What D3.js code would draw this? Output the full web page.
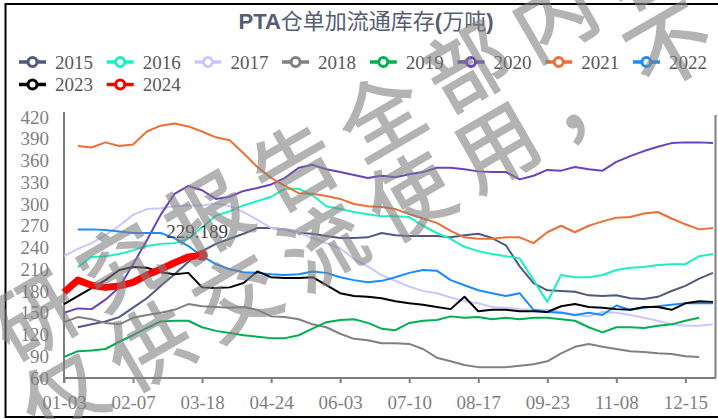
<!DOCTYPE html>
<html>
<head>
<meta charset="utf-8">
<script src="https://cdn.jsdelivr.net/npm/d3@7"></script>
<style>
body {margin:0; background:#fff;}
svg {display:block;}
</style>
</head>
<body>
<div class="graph"></div>
<script>
/*--------------- DATA -------------*/

// weekly categories (x axis), only every 5th one is labelled
const categories = ["01-03","01-10","01-17","01-24","01-31","02-07","02-14","02-21","02-28","03-08",
    "03-18","03-25","04-01","04-10","04-17","04-24","05-06","05-13","05-20","05-27",
    "06-03","06-10","06-17","06-24","07-01","07-10","07-17","07-24","07-31","08-07",
    "08-17","08-24","08-31","09-07","09-14","09-23","10-11","10-18","10-25","11-01",
    "11-08","11-15","11-22","11-29","12-06","12-15","12-22","12-29"];
const tickLabels = ["01-03","02-07","03-18","04-24","06-03","07-10","08-17","09-23","11-08","12-15"];
const yTicks = [60,90,120,150,180,210,240,270,300,330,360,390,420];

const years = ["2015","2016","2017","2018","2019","2020","2021","2022","2023","2024"];
const colors = ["#4e5a82","#1cefc2","#c8c8ff","#808080","#00b050","#6a42c0","#ec6f35","#1a8cff","#000000","#ff0000"];

const s2015 = [null,130,134,138,144,157,170,187,203,220,235,245,252,259,267,267,265,260,259,256,253,253,254,260,257,256,256,256,254,257,259,253,243,214,191,181,180,179,174,173,174,170,169,172,180,187,197,205];
const s2016 = [null,213,227,228,231,236,242,245,246,252,268,284,290,298,304,310,321,321,312,297,293,289,286,283,283,282,270,260,252,241,235,231,228,225,195,165,202,199,199,202,209,212,213,216,217,217,228,231];
const s2017 = [228,238,246,257,270,285,293,294,297,298,298,301,297,289,278,267,265,260,253,246,239,224,214,202,194,186,180,177,171,166,163,158,157,155,154,154,151,147,145,151,150,147,143,139,134,132,132,134];
const s2018 = [137,144,141,136,134,143,147,150,154,162,159,158,157,158,154,145,144,141,134,130,121,114,112,108,108,107,100,88,83,78,75,75,75,77,79,83,94,103,107,103,100,97,96,94,93,90,89,null];
const s2019 = [89,97,98,100,110,119,129,138,139,139,130,125,122,119,117,115,115,119,128,137,140,141,136,128,126,136,139,140,145,143,144,141,143,141,143,143,141,139,130,123,130,130,129,132,134,139,143,null];
const s2020 = [150,156,155,168,185,217,250,285,314,325,319,307,310,318,322,327,336,350,354,348,344,340,336,339,337,341,344,350,350,348,345,344,344,334,339,347,346,351,348,346,358,366,373,379,384,385,385,384];
const s2021 = [null,380,378,385,380,382,400,408,411,407,400,392,388,370,351,336,325,315,314,311,307,300,297,296,293,286,280,274,263,254,252,252,254,254,246,261,270,261,270,276,281,282,287,289,280,272,265,267];
const s2022 = [null,265,265,264,262,260,260,260,253,242,228,217,210,206,205,203,202,203,207,205,199,195,192,194,199,205,209,208,195,188,181,177,173,177,154,151,150,147,150,147,160,154,157,159,161,163,163,163];
const s2023 = [162,173,184,195,209,213,212,206,203,205,185,184,185,191,207,199,198,198,199,188,177,173,172,170,166,163,161,158,155,172,152,154,154,152,152,151,159,162,158,157,155,154,158,158,154,163,166,165];
const s2024 = [178,195,188,185,187,192,202,210,219,227,229.189];

const series = [s2015,s2016,s2017,s2018,s2019,s2020,s2021,s2022,s2023,s2024];

const watermark = ["研究报告全部内容", "仅供交流使用，不"];

/*--------------- D3 STUFF -------------*/

const SIZE = {X:718, Y:419};
const PLOT = {LEFT:64, RIGHT:713, TOP:117, BOTTOM:378, AXIS_END:716};
const SERIF = "'Liberation Serif','DejaVu Serif',serif";

const svg = d3.select(".graph").append("svg")
    .attr("width", SIZE.X)
    .attr("height", SIZE.Y);

//outer frame
svg.append("rect")
    .attr("x", 5.5).attr("y", 4)
    .attr("width", 760).attr("height", 413)
    .attr("fill", "#fff")
    .attr("stroke", "#000")
    .attr("stroke-width", 2);

//title
const title = svg.append("text")
    .attr("x", 366).attr("y", 29)
    .attr("text-anchor", "middle")
    .attr("fill", "#545c76")
    .style("font-family", "'Liberation Sans','Noto Sans CJK SC',sans-serif")
    .style("font-size", "22px");
title.append("tspan").attr("font-weight", "bold").text("PTA");
title.append("tspan").style("font-family", "'Noto Sans CJK SC'").text("仓单加流通库存");
title.append("tspan").attr("font-weight", "bold").text("(");
title.append("tspan").style("font-family", "'Noto Sans CJK SC'").text("万吨");
title.append("tspan").attr("font-weight", "bold").text(")");

//legend, 8 per row
const legend = svg.append("g");
years.forEach((yr, i) => {
    const lx = 19 + (i % 8) * 87.7;
    const ly = 62 + Math.floor(i / 8) * 22.5;
    const item = legend.append("g").attr("transform", `translate(${lx}, ${ly})`);
    item.append("line")
        .attr("x1", 0).attr("x2", 27)
        .attr("stroke", colors[i]).attr("stroke-width", 3.5);
    item.append("circle")
        .attr("cx", 13.5).attr("r", 4.5)
        .attr("fill", "#fff")
        .attr("stroke", colors[i]).attr("stroke-width", 3);
    item.append("text")
        .attr("x", 36).attr("y", 6.5)
        .attr("fill", "#595959")
        .style("font-family", SERIF)
        .style("font-size", "19px")
        .text(yr);
});

//scales
const x = d3.scalePoint()
    .domain(categories)
    .range([PLOT.LEFT, PLOT.RIGHT]);

const y = d3.scaleLinear()
    .domain([60, 420])
    .range([PLOT.BOTTOM, PLOT.TOP]);

//axes
const yAxis = svg.append("g")
    .attr("transform", `translate(${PLOT.LEFT}, 0)`)
    .call(d3.axisLeft(y).tickValues(yTicks).tickSize(0).tickPadding(15));

const xAxis = svg.append("g")
    .attr("transform", `translate(0, ${PLOT.BOTTOM})`)
    .call(d3.axisBottom(x).tickValues(tickLabels).tickSize(5).tickSizeOuter(0).tickPadding(13));

[xAxis, yAxis].forEach(a => {
    a.select(".domain").remove();
    a.selectAll("line").attr("stroke", "#7f7f7f").attr("stroke-width", 2);
    a.selectAll("text")
        .attr("fill", "#7f7f7f")
        .style("font-family", SERIF)
        .style("font-size", "19px");
});

//axis lines (y on both sides, x along bottom)
svg.append("line")
    .attr("x1", PLOT.LEFT).attr("x2", PLOT.LEFT)
    .attr("y1", 112).attr("y2", PLOT.BOTTOM + 5)
    .attr("stroke", "#7f7f7f").attr("stroke-width", 2);
svg.append("line")
    .attr("x1", PLOT.AXIS_END - 0.5).attr("x2", PLOT.AXIS_END - 0.5)
    .attr("y1", 115).attr("y2", PLOT.BOTTOM)
    .attr("stroke", "#7f7f7f").attr("stroke-width", 2);
svg.append("line")
    .attr("x1", PLOT.LEFT).attr("x2", PLOT.AXIS_END)
    .attr("y1", PLOT.BOTTOM).attr("y2", PLOT.BOTTOM)
    .attr("stroke", "#7f7f7f").attr("stroke-width", 2);

//series lines
const line = d3.line()
    .defined(d => d != null)
    .x((d, i) => x(categories[i]))
    .y(d => y(d));

series.forEach((s, i) => {
    const last = i === series.length - 1;
    svg.append("path")
        .datum(s)
        .attr("fill", "none")
        .attr("stroke", colors[i])
        .attr("stroke-width", last ? 7 : 2)
        .attr("stroke-linejoin", "round")
        .attr("d", line);
});

//end point of 2024 with its value
const endIdx = s2024.length - 1;
svg.append("circle")
    .attr("cx", x(categories[endIdx]))
    .attr("cy", y(s2024[endIdx]))
    .attr("r", 5.5)
    .attr("fill", colors[9]);
svg.append("text")
    .attr("x", x(categories[endIdx]) - 5)
    .attr("y", y(s2024[endIdx]) - 17)
    .attr("text-anchor", "middle")
    .attr("fill", "#404040")
    .style("font-family", SERIF)
    .style("font-size", "19px")
    .text(s2024[endIdx]);

//watermark on top
const wm = svg.append("g").attr("opacity", 0.6);
const WM_STEP = 100, WM_ANGLE = -30;
const wmStarts = [[32, 312], [61, 392]];
watermark.forEach((row, r) => {
    Array.from(row).forEach((ch, k) => {
        const cx = wmStarts[r][0] + k * WM_STEP * Math.cos(WM_ANGLE * Math.PI / 180);
        const cy = wmStarts[r][1] + k * WM_STEP * Math.sin(WM_ANGLE * Math.PI / 180);
        wm.append("text")
            .attr("transform", `translate(${cx}, ${cy}) rotate(${WM_ANGLE})`)
            .attr("text-anchor", "middle")
            .attr("dominant-baseline", "central")
            .attr("fill", "#808080")
            .attr("stroke", "#808080")
            .attr("stroke-width", 2)
            .style("font-family", "'Noto Sans CJK SC'")
            .style("font-size", "82px")
            .text(ch);
    });
});
</script>
</body>
</html>
